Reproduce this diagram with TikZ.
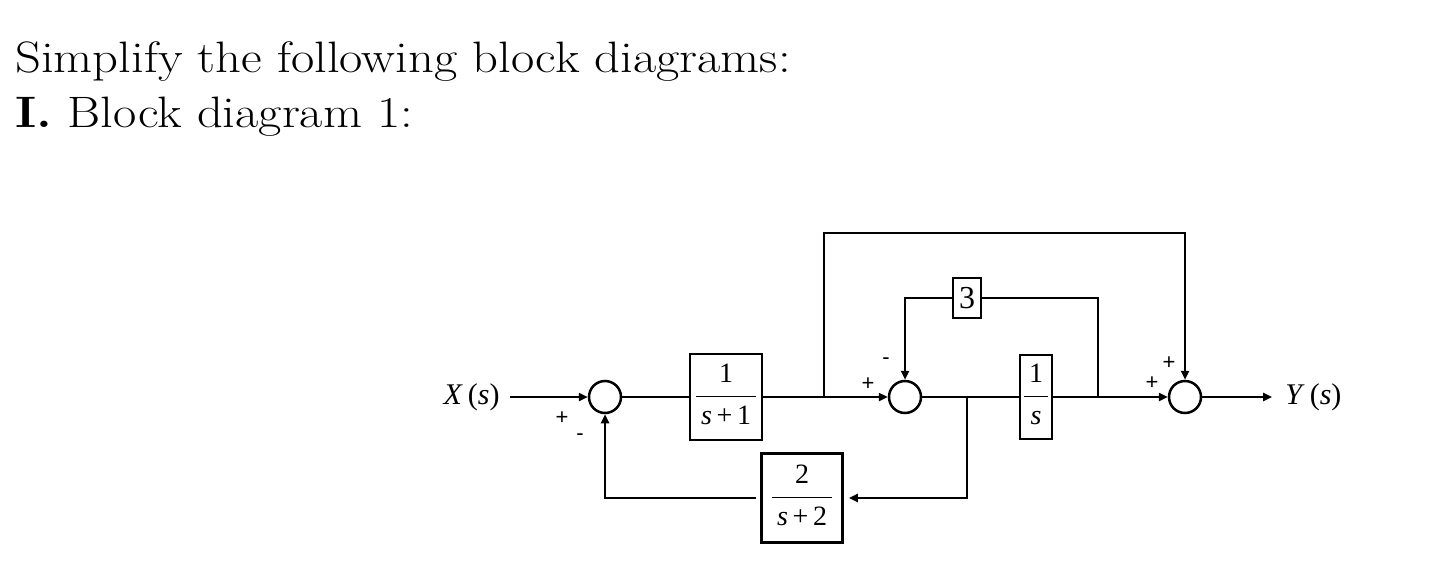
\documentclass[tikz,border=0pt]{standalone}
\usepackage{fontspec}
\usepackage{graphicx}
\newfontfamily\tnr{Liberation Serif}
\newfontfamily\sgn{Liberation Sans}
\usetikzlibrary{arrows.meta}
\newcommand\bfrac[2]{\begin{tabular}{@{\hspace{2.5pt}}c@{\hspace{2.5pt}}}#1\\[2pt]\hline\rule{0pt}{14pt}#2\end{tabular}}
\newcommand\wide[1]{\scalebox{1.15}[1]{#1}}
\tikzset{
  sumnode/.style={circle, draw, line width=1.25pt, minimum size=16pt, inner sep=0pt},
  blk/.style={draw, line width=1.25pt, inner sep=0pt, font=\tnr\fontsize{14}{16}\selectfont},
  wire/.style={line width=1.2pt},
  arr/.style={wire, -{Triangle[length=4.5pt,width=4pt]}},
  sign/.style={font=\sgn\fontsize{11}{11}\selectfont, inner sep=0pt},
  lbl/.style={font=\tnr\fontsize{15}{17}\selectfont, inner sep=0pt},
  ttl/.style={anchor=base west, inner sep=0pt, font=\fontsize{22}{26}\selectfont}
}
\begin{document}
\begin{tikzpicture}[x=0.5pt,y=-0.5pt]
\path[use as bounding box] (0,0) rectangle (1449,572);
% title
\node[ttl] (title1) at (15,73) {\wide{Simplify the following block diagrams:}};
\node[ttl] (title2) at (15,128) {\wide{\textbf{I.} Block diagram 1:}};
% nodes
\node[lbl, anchor=east] (X) at (500,397) {\textit{X}\,(\textit{s})};
\node[sumnode] (s1) at (605,397) {};
\node[blk, minimum width=36pt, minimum height=43pt] (b1) at (726,397) {\bfrac{1}{\textit{s}\,+\,1}};
\node[sumnode] (s2) at (905,397) {};
\node[blk, minimum width=14pt, minimum height=20pt, font=\tnr\fontsize{16}{18}\selectfont] (b3) at (967,298) {3};
\node[blk, minimum width=16pt, minimum height=42pt] (b4) at (1036,397) {\bfrac{1}{\textit{s}}};
\node[sumnode] (s3) at (1185,397) {};
\node[blk, minimum width=40.5pt, minimum height=44.5pt] (b2) at (802,498) {\bfrac{2}{\textit{s}\,+\,2}};
\node[lbl, anchor=west] (Y) at (1285,397) {\textit{Y}\,(\textit{s})};
% branch points
\coordinate (c1) at (824,397);
\coordinate (t1) at (824,233);
\coordinate (c2) at (967,397);
\coordinate (c3) at (1098,397);
% connectors
\draw[arr] ([xshift=5pt]X.east) -- (s1.west);
\draw[wire] (s1.east) -- (b1.west);
\draw[arr] (b1.east) -- (s2.west);
\draw[arr] (c1) -- (t1) -| (s3.north);
\draw[wire] (s2.east) -- (b4.west);
\draw[arr] (b4.east) -- (s3.west);
\draw[wire] (c3) |- (b3.east);
\draw[arr] (b3.west) -| (s2.north);
\draw[arr, shorten >=2.5pt] (c2) |- (b2.east);
\draw[arr, shorten <=2pt] (b2.west) -| (s1.south);
\draw[arr] (s3.east) -- ([xshift=-6.5pt]Y.west);
% signs
\node[sign] (p1) at (562,418) {+};
\node[sign] (m1) at (580,437) {-};
\node[sign] (p2) at (868,384) {+};
\node[sign] (m2) at (886,361) {-};
\node[sign] (p3) at (1152,383) {+};
\node[sign] (p4) at (1169,363) {+};
\end{tikzpicture}
\end{document}
